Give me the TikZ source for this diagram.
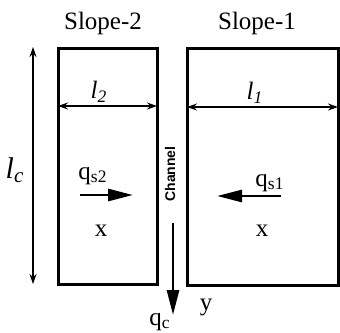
\documentclass[tikz,border=0pt]{standalone}
\usepackage{fontspec}
\setmainfont{Liberation Serif}
\newfontfamily\chanfont{Liberation Sans}
\usetikzlibrary{arrows.meta}

\begin{document}
\begin{tikzpicture}[x=0.5pt, y=-0.5pt,
    slopebox/.style={line width=1.5pt},
    dimline/.style={semithick, {Stealth[length=5pt,width=3.5pt]}-{Stealth[length=5pt,width=3.5pt]}},
    flowarrow/.style={line width=1.4pt, -{Triangle[length=12.5pt,width=6pt]}},
    lab/.style={font=\fontsize{12.5}{14}\selectfont, inner sep=0pt}]
    \useasboundingbox (0,0) rectangle (340,332);
    % Slope-2
    \coordinate (s2nw) at (58,48);
    \coordinate (s2se) at (157,284);
    \draw[slopebox] (s2nw) rectangle (s2se);
    \node[lab] (s2title) at (103,23) {Slope-2};
    \coordinate (d2a) at (58,106); \coordinate (d2b) at (157,106);
    \draw[dimline] (d2a) -- (d2b);
    \node[lab] (l2) at (99,92) {\textit{l\textsubscript{2}}};
    \coordinate (q2a) at (80,195); \coordinate (q2b) at (133,195);
    \draw[flowarrow] (q2a) -- (q2b);
    \node[lab] (qs2) at (93,176) {q\textsubscript{s2}};
    \node[lab] (x2) at (101,231) {x};
    % Slope-1
    \coordinate (s1nw) at (187,48);
    \coordinate (s1se) at (338,285);
    \draw[slopebox] (s1nw) rectangle (s1se);
    \node[lab] (s1title) at (257,23) {Slope-1};
    \coordinate (d1a) at (187,107); \coordinate (d1b) at (338,107);
    \draw[dimline] (d1a) -- (d1b);
    \node[lab] (l1) at (255,93) {\textit{l\textsubscript{1}}};
    \coordinate (q1a) at (281,196); \coordinate (q1b) at (217,196);
    \draw[flowarrow] (q1a) -- (q1b);
    \node[lab] (qs1) at (270,183) {q\textsubscript{s1}};
    \node[lab] (x1) at (262,231) {x};
    % Channel
    \node[font=\chanfont\bfseries\fontsize{7}{8}\selectfont, rotate=90, inner sep=0pt] (chan) at (170,174) {Channel};
    \coordinate (qca) at (173,223); \coordinate (qcb) at (173,315);
    \draw[flowarrow] (qca) -- (qcb);
    \node[lab] (qc) at (160,322) {q\textsubscript{c}};
    \node[lab] (yax) at (206,307) {y};
    % length of channel
    \coordinate (lca) at (33,47); \coordinate (lcb) at (33,284);
    \draw[dimline] (lca) -- (lcb);
    \node[font=\fontsize{15}{17}\selectfont, inner sep=0pt] (lc) at (15,170) {\textit{l\textsubscript{c}}};
\end{tikzpicture}
\end{document}
